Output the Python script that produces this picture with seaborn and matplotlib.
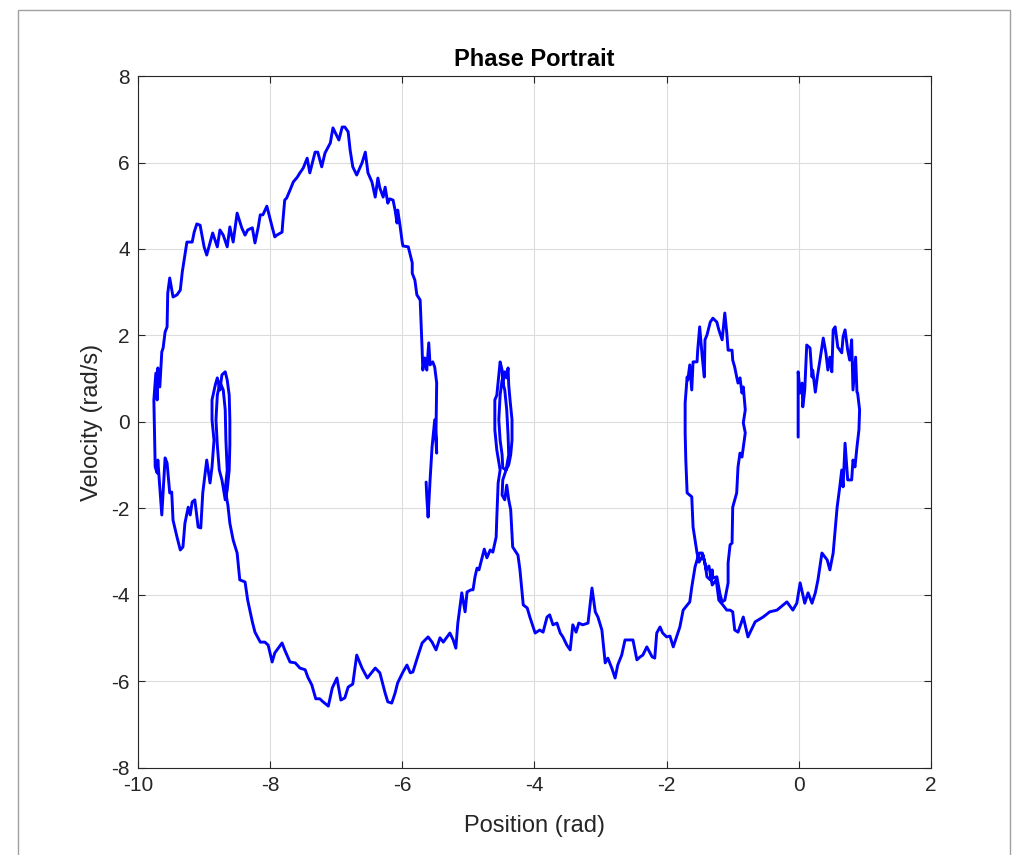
import numpy as np
import pandas as pd
import matplotlib
matplotlib.use("Agg")
import matplotlib.pyplot as plt
import seaborn as sns

# trajectory, in path order, split into pieces
# big loop: right edge going up, over the top, down the left edge
upper_x = [-5.64, -5.63, -5.61, -5.58, -5.55, -5.54, -5.51, -5.48, -5.49, -5.48, -5.51, -5.54, -5.58, -5.60,
           -5.63, -5.66, -5.69, -5.70, -5.73, -5.78, -5.81, -5.85, -5.85, -5.91, -5.99, -6.00, -6.04, -6.07,
           -6.08, -6.11, -6.14, -6.19, -6.22, -6.26, -6.29, -6.34, -6.37, -6.41, -6.46, -6.52, -6.56, -6.61,
           -6.69, -6.75, -6.79, -6.82, -6.87, -6.91, -6.96, -7.05, -7.09, -7.17, -7.22, -7.28, -7.32, -7.40,
           -7.44, -7.50, -7.55, -7.59, -7.65, -7.70, -7.75, -7.78, -7.81, -7.82, -7.90, -7.93, -7.97, -8.05,
           -8.11, -8.15, -8.18, -8.23, -8.27, -8.34, -8.38, -8.43, -8.50, -8.56, -8.61, -8.65, -8.71, -8.76,
           -8.80, -8.87, -8.96, -9.00, -9.06, -9.11, -9.15, -9.18, -9.26, -9.32, -9.33, -9.36, -9.41, -9.47,
           -9.52, -9.55, -9.56, -9.59, -9.62, -9.64, -9.67, -9.70, -9.71, -9.73, -9.76]
upper_y = [-1.39, -1.73, -2.20, -1.34, -0.58, -0.42, 0.05, -0.72, -0.18, 0.90, 1.27, 1.39, 1.32, 1.83,
           1.20, 1.48, 1.20, 1.66, 2.82, 2.94, 3.28, 3.44, 3.68, 4.05, 4.07, 4.14, 4.60, 4.90,
           4.60, 4.90, 5.13, 5.16, 5.06, 5.43, 5.20, 5.41, 5.64, 5.20, 5.55, 5.76, 6.24, 5.99,
           5.71, 5.90, 6.29, 6.71, 6.82, 6.82, 6.52, 6.80, 6.45, 6.22, 5.90, 6.24, 6.24, 5.76,
           6.10, 5.87, 5.76, 5.66, 5.55, 5.36, 5.18, 5.13, 4.60, 4.39, 4.32, 4.28, 4.51, 4.99,
           4.79, 4.79, 4.51, 4.14, 4.49, 4.44, 4.32, 4.49, 4.83, 4.16, 4.51, 4.05, 4.32, 4.44,
           4.05, 4.37, 3.86, 4.05, 4.55, 4.58, 4.39, 4.16, 4.16, 3.58, 3.47, 3.05, 2.94, 2.89,
           3.33, 2.98, 2.20, 2.08, 1.71, 1.62, 0.81, 1.25, 0.51, 1.13, 0.51]

# lower left corner and the small wobble near -8.8 rad
left_x = [-9.74, -9.71, -9.70, -9.64, -9.59, -9.56, -9.52, -9.49, -9.47, -9.41, -9.36, -9.32, -9.29, -9.24,
          -9.21, -9.18, -9.14, -9.09, -9.05, -9.02, -8.96, -8.91, -8.88, -8.85, -8.88, -8.88, -8.83, -8.80,
          -8.76, -8.73, -8.68, -8.65, -8.62, -8.61, -8.61, -8.62, -8.65, -8.68, -8.73, -8.77, -8.80, -8.82,
          -8.80, -8.76, -8.71, -8.68, -8.67, -8.65, -8.68, -8.64, -8.61]
left_y = [-1.04, -1.18, -0.88, -2.15, -0.83, -0.95, -1.64, -1.62, -2.27, -2.66, -2.96, -2.89, -2.34, -1.97,
          -2.15, -1.85, -1.80, -2.43, -2.45, -1.64, -0.88, -1.41, -1.04, -0.42, 0.05, 0.51, 0.86, 1.02,
          0.74, 1.09, 1.16, 0.97, 0.62, 0.05, -0.53, -1.11, -1.57, -1.80, -1.34, -1.11, -0.53, 0.05,
          0.62, 0.92, 0.74, 0.28, -0.42, -1.11, -1.57, -1.92, -2.34]

# bottom of the big loop up to the wobble near -4.5 rad
lower_x = [-8.56, -8.50, -8.46, -8.38, -8.34, -8.27, -8.23, -8.15, -8.08, -8.03, -7.97, -7.93, -7.82, -7.78,
           -7.70, -7.62, -7.55, -7.47, -7.43, -7.37, -7.31, -7.25, -7.20, -7.12, -7.06, -6.99, -6.93, -6.87,
           -6.82, -6.75, -6.69, -6.61, -6.53, -6.41, -6.34, -6.26, -6.22, -6.16, -6.11, -6.07, -5.99, -5.93,
           -5.88, -5.84, -5.76, -5.70, -5.61, -5.55, -5.49, -5.43, -5.38, -5.28, -5.23, -5.19, -5.16, -5.10,
           -5.05, -5.02, -4.96, -4.93, -4.90, -4.87, -4.84, -4.79, -4.76, -4.72, -4.67, -4.63, -4.58, -4.57,
           -4.55]
lower_y = [-2.73, -3.03, -3.65, -3.70, -4.12, -4.62, -4.86, -5.09, -5.09, -5.16, -5.55, -5.34, -5.11, -5.27,
           -5.55, -5.57, -5.69, -5.73, -5.90, -6.08, -6.40, -6.40, -6.47, -6.57, -6.15, -5.92, -6.43, -6.38,
           -6.13, -6.06, -5.39, -5.69, -5.92, -5.69, -5.80, -6.27, -6.47, -6.50, -6.27, -6.03, -5.78, -5.62,
           -5.80, -5.78, -5.39, -5.11, -4.97, -5.09, -5.27, -4.99, -5.09, -4.88, -5.04, -5.23, -4.65, -3.95,
           -4.39, -3.93, -3.88, -3.88, -3.58, -3.38, -3.42, -3.12, -2.94, -3.14, -2.96, -3.01, -2.66, -2.20,
           -1.41]

# wobble near -4.5 rad
mid_x = [-4.52, -4.57, -4.60, -4.60, -4.57, -4.54, -4.52, -4.49, -4.48, -4.45, -4.42, -4.40, -4.39, -4.37,
         -4.34, -4.34, -4.36, -4.39, -4.43, -4.48, -4.49, -4.52, -4.54, -4.52, -4.49, -4.45, -4.42, -4.40,
         -4.39, -4.43, -4.48, -4.49, -4.45, -4.42, -4.39, -4.36]
mid_y = [-1.11, -0.65, -0.18, 0.51, 0.62, 1.09, 1.39, 1.20, 0.86, 1.16, 1.02, 1.25, 0.86, 0.51,
         0.05, -0.42, -0.76, -0.99, -1.11, -1.06, -0.76, -0.42, 0.05, 0.62, 0.97, 0.74, 0.28, -0.30,
         -0.76, -1.11, -1.34, -1.69, -1.80, -1.46, -1.80, -2.03]

# valley between -4.3 and -1.5 rad
valley_x = [-4.33, -4.25, -4.22, -4.17, -4.11, -4.07, -3.99, -3.92, -3.87, -3.81, -3.77, -3.72, -3.66, -3.61,
            -3.57, -3.51, -3.46, -3.42, -3.37, -3.33, -3.27, -3.19, -3.13, -3.08, -3.04, -2.98, -2.93, -2.89,
            -2.83, -2.78, -2.74, -2.68, -2.63, -2.55, -2.51, -2.45, -2.40, -2.36, -2.30, -2.22, -2.18, -2.15,
            -2.10, -2.06, -2.00, -1.95, -1.90, -1.80, -1.75, -1.65, -1.62, -1.57, -1.54]
valley_y = [-2.89, -3.08, -3.42, -4.23, -4.30, -4.51, -4.88, -4.81, -4.86, -4.51, -4.46, -4.69, -4.65, -4.88,
            -4.97, -5.16, -5.27, -4.69, -4.86, -4.65, -4.69, -4.65, -3.84, -4.39, -4.51, -4.81, -5.57, -5.46,
            -5.69, -5.92, -5.62, -5.39, -5.04, -5.04, -5.04, -5.50, -5.43, -5.39, -5.20, -5.43, -5.46, -4.88,
            -4.74, -4.88, -4.97, -4.95, -5.20, -4.74, -4.35, -4.16, -3.82, -3.35, -3.19]

# loop around -1.2 rad
loop_x = [-1.50, -1.46, -1.42, -1.39, -1.34, -1.31, -1.30, -1.24, -1.19, -1.16, -1.12, -1.07, -1.07, -1.04,
          -1.01, -1.00, -0.94, -0.92, -0.89, -0.86, -0.84, -0.81, -0.84, -0.81, -0.84, -0.86, -0.89, -0.92,
          -0.94, -0.97, -1.00, -1.01, -1.07, -1.09, -1.12, -1.15, -1.16, -1.21, -1.24, -1.30, -1.34, -1.39,
          -1.42, -1.43, -1.46, -1.50, -1.53, -1.54, -1.60, -1.62, -1.65, -1.68, -1.69, -1.72, -1.72, -1.71,
          -1.69, -1.62, -1.60, -1.54, -1.51, -1.45, -1.40, -1.36, -1.31, -1.25, -1.21, -1.15, -1.09, -1.04,
          -1.00, -0.97, -0.92, -0.84, -0.77, -0.66, -0.54, -0.44, -0.33, -0.18, -0.09, -0.03]
loop_y = [-3.03, -3.03, -3.26, -3.58, -3.65, -3.42, -3.61, -3.58, -4.00, -4.16, -4.12, -3.72, -3.26, -2.84,
          -2.80, -1.97, -1.64, -1.04, -0.72, -0.81, -0.58, -0.25, -0.02, 0.28, 0.81, 0.67, 1.02, 0.90,
          1.04, 1.27, 1.43, 1.66, 1.66, 2.06, 2.52, 2.06, 1.90, 2.13, 2.31, 2.40, 2.31, 2.01,
          1.90, 1.04, 1.48, 2.20, 1.66, 1.39, 1.39, 0.74, 1.32, 0.97, 1.04, 0.44, -0.25, -0.88,
          -1.64, -1.73, -2.43, -3.03, -3.24, -3.08, -3.42, -3.33, -3.77, -3.65, -4.12, -4.23, -4.35, -4.35,
          -4.39, -4.81, -4.86, -4.51, -4.97, -4.62, -4.51, -4.39, -4.35, -4.16, -4.35, -4.19]

# loop to the right of zero, ends where the run started
right_x = [0.02, 0.09, 0.14, 0.20, 0.25, 0.29, 0.35, 0.43, 0.47, 0.52, 0.58, 0.62, 0.65, 0.67,
           0.70, 0.73, 0.74, 0.80, 0.82, 0.85, 0.88, 0.91, 0.92, 0.89, 0.88, 0.86, 0.82, 0.80,
           0.77, 0.74, 0.70, 0.67, 0.65, 0.59, 0.55, 0.52, 0.50, 0.47, 0.44, 0.41, 0.37, 0.35,
           0.32, 0.28, 0.25, 0.21, 0.20, 0.17, 0.12, 0.09, 0.06, 0.05, 0.02, -0.01, -0.01]
right_y = [-3.72, -4.19, -3.95, -4.19, -3.95, -3.65, -3.03, -3.19, -3.42, -3.03, -1.97, -1.50, -1.11, -1.50,
           -0.49, -1.11, -1.34, -1.34, -0.88, -1.04, -0.58, -0.18, 0.28, 0.67, 0.69, 1.50, 0.74, 1.90,
           1.43, 1.66, 2.13, 1.97, 1.60, 1.73, 2.20, 2.13, 1.16, 1.50, 1.20, 1.60, 1.94, 1.73,
           1.43, 1.04, 0.69, 1.20, 1.04, 1.71, 1.78, 0.74, 0.35, 0.90, 0.67, 1.16, -0.35]

pieces = [(upper_x, upper_y), (left_x, left_y), (lower_x, lower_y), (mid_x, mid_y),
          (valley_x, valley_y), (loop_x, loop_y), (right_x, right_y)]
traj = pd.DataFrame({
    "position": np.concatenate([p[0] for p in pieces]),
    "velocity": np.concatenate([p[1] for p in pieces]),
})

sns.set_theme(style="whitegrid")
plt.rcParams["font.family"] = ["Liberation Sans", "DejaVu Sans"]
plt.rcParams["axes.unicode_minus"] = False

fig = plt.figure(figsize=(10.17, 8.55), dpi=100)
ax = fig.add_axes([0.1357, 0.1018, 0.9154 - 0.1357, 0.9111 - 0.1018])

sns.lineplot(data=traj, x="position", y="velocity", sort=False, estimator=None,
             color="#0000ff", linewidth=2.1, ax=ax)

ax.set_xlim(-10, 2)
ax.set_ylim(-8, 8)
ax.set_xticks(np.arange(-10, 3, 2))
ax.set_yticks(np.arange(-8, 9, 2))
ax.set_facecolor("white")
ax.grid(True, color="#dcdcdc", linewidth=0.8)
for side in ["left", "right", "top", "bottom"]:
    ax.spines[side].set_visible(True)
    ax.spines[side].set_color("#262626")
    ax.spines[side].set_linewidth(0.8)
ax.tick_params(direction="in", length=5, width=0.8, colors="#262626", labelsize=15,
               top=True, right=True, bottom=True, left=True, pad=6)
ax.set_xlabel("Position (rad)", fontsize=17, color="#262626", labelpad=14)
ax.set_ylabel("Velocity (rad/s)", fontsize=17, color="#262626", labelpad=6)
ax.set_title("Phase Portrait", fontsize=17, fontweight="bold", color="black", pad=7)

# thin window frame seen around the reference
fig.patches.append(plt.Rectangle((18 / 1017, -0.01), 992 / 1017, 1 - 10 / 855 + 0.01,
                                 transform=fig.transFigure, fill=False,
                                 edgecolor="#a0a0a0", linewidth=1.0))

fig.savefig("out.png", dpi=100, facecolor="white")
